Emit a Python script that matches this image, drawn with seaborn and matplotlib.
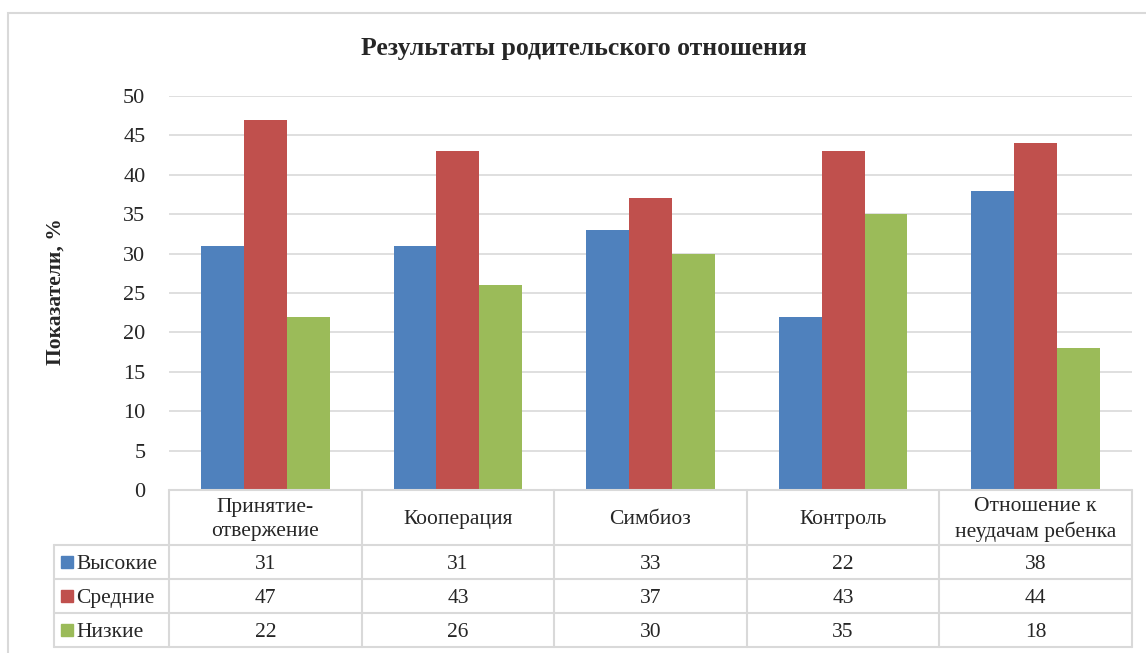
import matplotlib.pyplot as plt
import matplotlib.patches as mpatches
import pandas as pd
import seaborn as sns

# Данные диаграммы
categories = ['Принятие-\nотвержение', 'Кооперация', 'Симбиоз', 'Контроль',
              'Отношение к\nнеудачам ребенка']
levels = ['Высокие', 'Средние', 'Низкие']
high = [31, 31, 33, 22, 38]
mid = [47, 43, 37, 43, 44]
low = [22, 26, 30, 35, 18]
colors = ['#4F81BD', '#C0504D', '#9BBB59']

series = [high, mid, low]
rows = []
for lvl, vals in zip(levels, series):
    for cat, v in zip(categories, vals):
        rows.append({'Категория': cat, 'Уровень': lvl, 'Значение': v})
df = pd.DataFrame(rows)

sns.set_style('white')
plt.rcParams['font.family'] = ['Liberation Serif', 'DejaVu Serif']

W, H = 1146, 653
fig = plt.figure(figsize=(W / 100, H / 100), dpi=100)

# рамка вокруг диаграммы
fig.patches.append(mpatches.Rectangle((8 / W, -0.1), 1.2, 1.1 - 13 / H, transform=fig.transFigure,
                                      fill=False, edgecolor='#D9D9D9', linewidth=1.5))

ax_left, ax_right = 169 / W, 1132 / W
ax_bottom, ax_top = 1 - 490 / H, 1 - 96 / H
ax = fig.add_axes([ax_left, ax_bottom, ax_right - ax_left, ax_top - ax_bottom])

sns.barplot(data=df, x='Категория', y='Значение', hue='Уровень', hue_order=levels,
            palette=colors, saturation=1, width=0.667, linewidth=0, legend=False, ax=ax)
ax.set_xlim(-0.5, len(categories) - 0.5)
ax.set_ylim(0, 50)
ax.set_yticks(range(0, 51, 5))
ax.tick_params(axis='y', labelsize=16, length=0, pad=17)
ax.set_xticks([])
ax.set_xlabel('')
ax.set_ylabel('')
ax.grid(axis='y', color='#D9D9D9', linewidth=1.2)
ax.set_axisbelow(True)
for s in ax.spines.values():
    s.set_visible(False)

fig.text(584 / W, 1 - 48 / H, 'Результаты родительского отношения', ha='center', va='center',
         fontsize=18.5, fontweight='bold')
fig.text(56 / W, 1 - 292 / H, 'Показатели, %', ha='center', va='center', rotation=90,
         fontsize=15.5, fontweight='bold')

# таблица данных
cat_px = (1132 - 169) / len(categories)
label_w = (169 - 54) / cat_px
header_h = 55 / 34
n = len(categories)
tleft = -0.5 - label_w
ax_t = fig.add_axes([54 / W, 1 - 647 / H, (1132 - 54) / W, (647 - 490) / H])
ax_t.set_xlim(tleft, n - 0.5)
ax_t.set_ylim(-(header_h + len(levels)), 0)
ax_t.axis('off')

line_kw = dict(color='#D9D9D9', linewidth=1.5, clip_on=False)
ax_t.plot([-0.5, n - 0.5], [0, 0], **line_kw)
for r in range(len(levels) + 1):
    y = -header_h - r
    ax_t.plot([tleft, n - 0.5], [y, y], **line_kw)
for i in range(n + 1):
    x = -0.5 + i
    ax_t.plot([x, x], [0, -(header_h + len(levels))], **line_kw)
ax_t.plot([tleft, tleft], [-header_h, -(header_h + len(levels))], **line_kw)

for i, cat in enumerate(categories):
    ax_t.text(i, -header_h / 2 - 0.06, cat, ha='center', va='center', fontsize=15.5, linespacing=1.3)

for r, (lvl, vals, c) in enumerate(zip(levels, series, colors)):
    yc = -header_h - r - 0.5
    ax_t.plot([tleft + 0.07], [yc], marker='s', markersize=8, color=c, linestyle='none', clip_on=False)
    ax_t.text(tleft + 0.115, yc - 0.07, lvl, ha='left', va='center', fontsize=15.5)
    for i, v in enumerate(vals):
        ax_t.text(i, yc - 0.07, str(v), ha='center', va='center', fontsize=15.5)

fig.savefig('out.png', dpi=100)
